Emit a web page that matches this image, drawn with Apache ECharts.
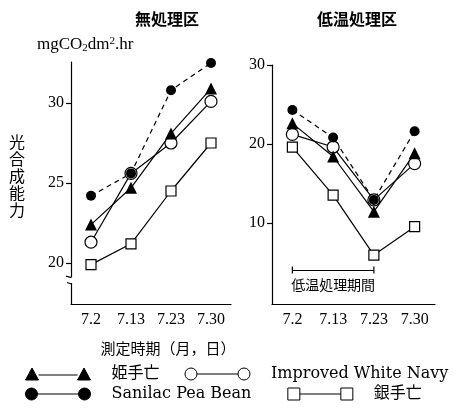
<!DOCTYPE html>
<html>
<head>
<meta charset="utf-8">
<script src="https://cdn.jsdelivr.net/npm/echarts@6.0.0/dist/echarts.min.js"></script>
<style>
  html, body { margin: 0; padding: 0; background: #fff; }
  #main { width: 456px; height: 409px; }
</style>
</head>
<body>
<div id="main"></div>
<script>
// 測定日
var categories = ['7.2', '7.13', '7.23', '7.30'];

// 無処理区
var himeLeft = [22.4, 24.7, 28.1, 30.9];
var navyLeft = [21.3, 25.6, 27.5, 30.1];
var sanilacLeft = [24.2, 25.6, 30.8, 32.5];
var ginLeft = [19.9, 21.2, 24.5, 27.5];

// 低温処理区
var himeRight = [22.6, 18.4, 11.4, 18.8];
var navyRight = [21.2, 19.6, 12.9, 17.5];
var sanilacRight = [24.3, 20.8, 12.9, 21.6];
var ginRight = [19.6, 13.5, 5.9, 9.5];

var leftTicks = [20, 25, 30];
var rightTicks = [10, 20, 30];
var periodLevel = 4.0;

var serif = 'Liberation Serif';
var cjk = 'Noto Sans CJK JP';

var dom = document.getElementById('main');
var myChart = echarts.init(dom, null, { renderer: 'canvas' });

function xAxisOf(i) {
  return {
    gridIndex: i,
    type: 'category',
    data: categories,
    boundaryGap: true,
    axisLine: { onZero: false, lineStyle: { color: '#000', width: 1.2 } },
    axisTick: { alignWithLabel: true, length: 5, lineStyle: { color: '#000', width: 1.2 } },
    axisLabel: { color: '#000', fontSize: 16, fontFamily: serif, margin: 8 },
    splitLine: { show: false }
  };
}

function yAxisOf(i, min, max, ticks) {
  return {
    gridIndex: i,
    type: 'value',
    min: min,
    max: max,
    axisLine: { show: true, lineStyle: { color: '#000', width: 1.2 } },
    axisTick: { show: true, length: 5, customValues: ticks, lineStyle: { color: '#000', width: 1.2 } },
    axisLabel: { color: '#000', fontSize: 16, fontFamily: serif, margin: 7, customValues: ticks },
    splitLine: { show: false }
  };
}

var filled = { color: '#000' };
var hollow = { color: '#fff', borderColor: '#000', borderWidth: 1.2 };

function lineOf(name, data, idx, symbol, size, style, dashed) {
  return {
    name: name,
    type: 'line',
    xAxisIndex: idx,
    yAxisIndex: idx,
    data: data,
    symbol: symbol,
    symbolSize: size,
    showAllSymbol: true,
    itemStyle: style,
    lineStyle: { color: '#000', width: 1.2, type: dashed ? [5, 4] : 'solid' },
    emphasis: { disabled: true }
  };
}

// 凡例のアイコン (記号——記号)
var triIcon = 'path://M0,12L6.5,0L13,12Z M13,7L52,7 M52,12L58.5,0L65,12Z';
var circIcon = 'path://M0,6A6,6,0,1,1,12,6A6,6,0,1,1,0,6Z M12,6L53,6 M53,6A6,6,0,1,1,65,6A6,6,0,1,1,53,6Z';
var sqIcon = 'path://M0,0L12,0L12,12L0,12Z M12,6L53,6 M53,0L65,0L65,12L53,12Z';

var legendBase = {
  left: 25,
  width: 450,
  padding: 0,
  orient: 'horizontal',
  itemWidth: 65,
  itemHeight: 12,
  selectedMode: false,
  textStyle: {
    color: '#000', fontSize: 16, fontFamily: 'DejaVu Serif, ' + cjk, padding: [0, 0, 0, 16]
  }
};

var ginRightSeries = lineOf('銀手亡', ginRight, 1, 'rect', 10, hollow, false);
ginRightSeries.markLine = {
  silent: true,
  animation: false,
  symbol: ['rect', 'rect'],
  symbolSize: [1.2, 7],
  symbolRotate: 0,
  lineStyle: { color: '#000', width: 1.2, type: 'solid' },
  label: {
    show: true,
    position: 'insideMiddleBottom',
    formatter: '低温処理期間',
    color: '#000',
    fontSize: 14,
    fontFamily: cjk,
    distance: 8
  },
  data: [[{ coord: ['7.2', periodLevel] }, { coord: ['7.23', periodLevel] }]]
};

var option = {
  animation: false,
  backgroundColor: '#fff',
  grid: [
    { left: 71, top: 62, width: 160, height: 242 },
    { left: 272, top: 65, width: 163, height: 239 }
  ],
  xAxis: [xAxisOf(0), xAxisOf(1)],
  yAxis: [
    yAxisOf(0, 17.4375, 32.5625, leftTicks),
    yAxisOf(1, -0.3, 30, rightTicks)
  ],
  legend: [
    Object.assign({}, legendBase, {
      top: 366,
      itemGap: 25,
      data: [
        { name: '姫手亡', icon: triIcon, itemStyle: { color: '#000', borderColor: '#000', borderWidth: 1 } },
        { name: 'Improved White Navy', icon: circIcon, itemStyle: { color: '#fff', borderColor: '#000', borderWidth: 1 } }
      ]
    }),
    Object.assign({}, legendBase, {
      top: 386,
      itemGap: 36,
      data: [
        { name: 'Sanilac Pea Bean', icon: circIcon, itemStyle: { color: '#000', borderColor: '#000', borderWidth: 1 } },
        { name: '銀手亡', icon: sqIcon, itemStyle: { color: '#fff', borderColor: '#000', borderWidth: 1 } }
      ]
    })
  ],
  graphic: [
    { id: 't1', type: 'text', x: 167, y: 19, style: { text: '無処理区', font: 'bold 16px ' + cjk, fill: '#000', align: 'center', verticalAlign: 'middle' } },
    { id: 't2', type: 'text', x: 357, y: 19, style: { text: '低温処理区', font: 'bold 16px ' + cjk, fill: '#000', align: 'center', verticalAlign: 'middle' } },
    {
      id: 'unit', type: 'text', x: 37, y: 45,
      style: {
        text: 'mgCO{sub|2}dm{sup|2}.hr',
        font: '17px ' + serif,
        fill: '#000',
        verticalAlign: 'middle',
        rich: {
          sub: { fontSize: 11, fontFamily: serif, padding: [6, 0, 0, 0] },
          sup: { fontSize: 11, fontFamily: serif, padding: [0, 0, 7, 0] }
        }
      }
    },
    { id: 'yname', type: 'text', x: 17, y: 133, style: { text: '光\n合\n成\n能\n力', font: '16px ' + cjk, lineHeight: 17, fill: '#000', align: 'center', verticalAlign: 'top' } },
    { id: 'xname', type: 'text', x: 168, y: 348, style: { text: '測定時期（月，日）', font: '15px ' + cjk, fill: '#000', align: 'center', verticalAlign: 'middle' } }
  ],
  series: [
    lineOf('Improved White Navy', navyLeft, 0, 'circle', 12, hollow, false),
    lineOf('銀手亡', ginLeft, 0, 'rect', 10, hollow, false),
    lineOf('姫手亡', himeLeft, 0, 'triangle', 12, filled, false),
    lineOf('Sanilac Pea Bean', sanilacLeft, 0, 'circle', 10, filled, true),
    lineOf('Improved White Navy', navyRight, 1, 'circle', 12, hollow, false),
    ginRightSeries,
    lineOf('姫手亡', himeRight, 1, 'triangle', 12, filled, false),
    lineOf('Sanilac Pea Bean', sanilacRight, 1, 'circle', 10, filled, true)
  ]
};

myChart.setOption(option);

// 左の縦軸の省略記号
var axisX = 71;
var yA = myChart.convertToPixel({ yAxisIndex: 0 }, 19.12);
var yB = myChart.convertToPixel({ yAxisIndex: 0 }, 18.75);
myChart.setOption({
  graphic: [
    { id: 'gap', type: 'rect', z: 100, shape: { x: axisX - 3, y: yA, width: 6, height: yB - yA }, style: { fill: '#fff' } },
    { id: 'cut1', type: 'line', z: 101, shape: { x1: axisX - 5, y1: yA - 1, x2: axisX + 0.5, y2: yA + 0.5 }, style: { stroke: '#000', lineWidth: 1.2 } },
    { id: 'cut2', type: 'line', z: 101, shape: { x1: axisX - 4, y1: yB - 0.5, x2: axisX + 0.5, y2: yB + 1 }, style: { stroke: '#000', lineWidth: 1.2 } }
  ]
});

window.addEventListener('resize', myChart.resize);
</script>
</body>
</html>
